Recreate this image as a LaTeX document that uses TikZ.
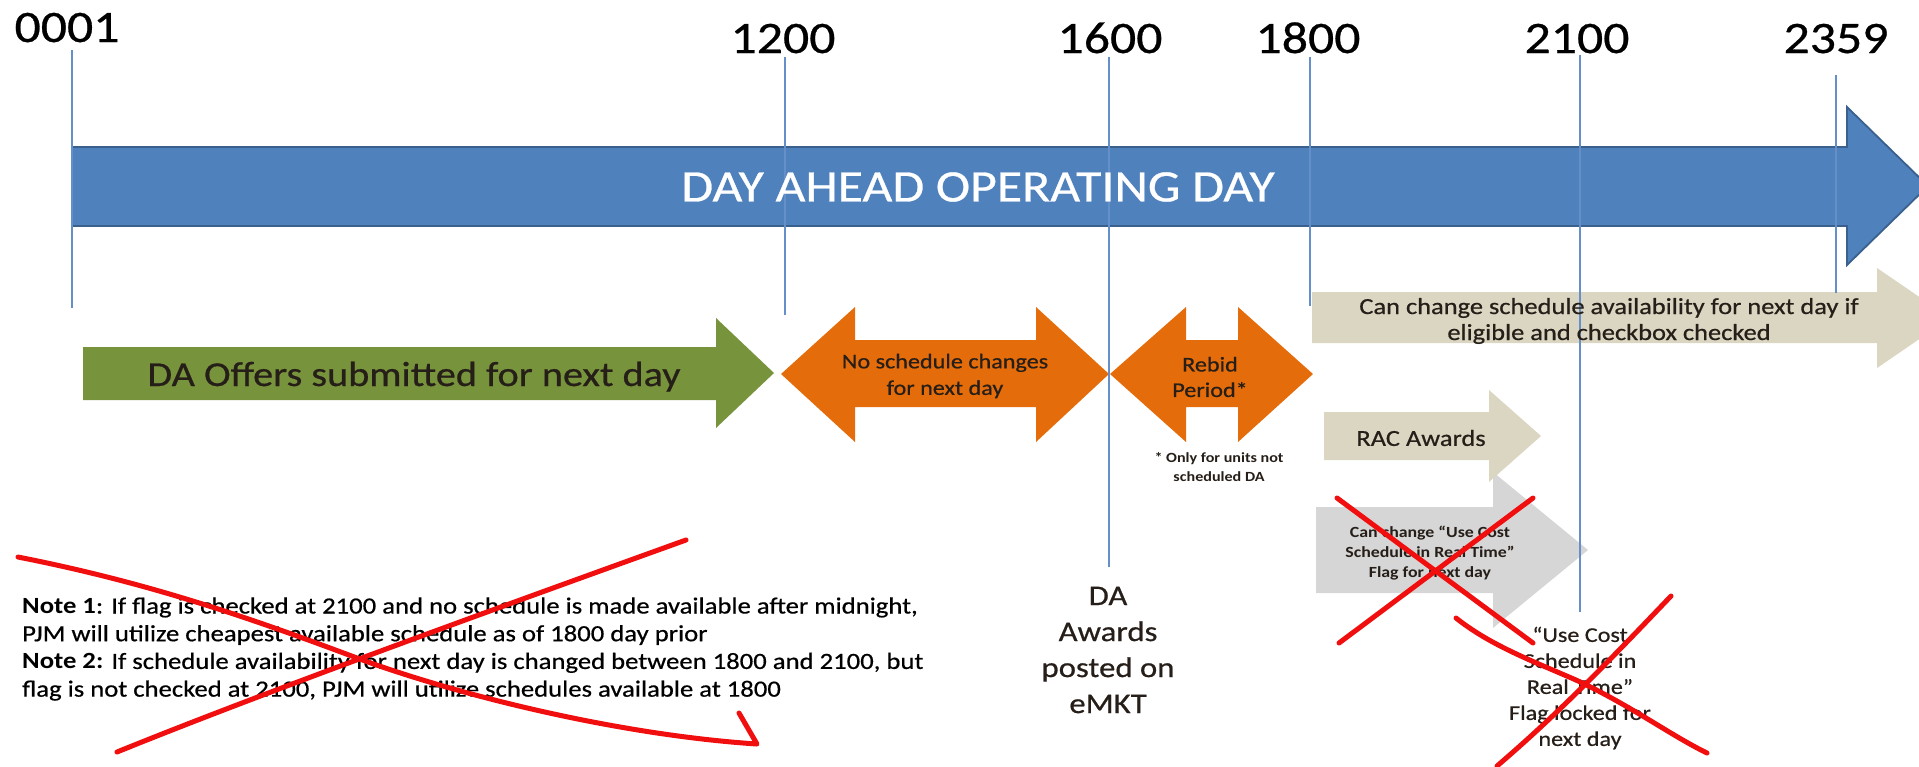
\documentclass[tikz,border=0pt]{standalone}
\usepackage{fontspec}
\setmainfont{Carlito}[FakeStretch=1.15, UprightFeatures={FakeBold=0.6}]
\definecolor{tlblue}{RGB}{79,129,189}
\definecolor{tlblueedge}{RGB}{58,96,142}
\definecolor{tickblue}{RGB}{100,143,200}
\definecolor{dagreen}{RGB}{119,147,60}
\definecolor{daorange}{RGB}{228,108,10}
\definecolor{tanfill}{RGB}{218,214,194}
\definecolor{lgrey}{RGB}{214,214,214}
\definecolor{xred}{RGB}{240,14,14}
\definecolor{darktxt}{RGB}{38,30,24}
\begin{document}
\begin{tikzpicture}[x=1pt,y=-1pt,
  ticklbl/.style={font=\fontsize{45}{54}\selectfont, inner sep=0pt, anchor=base},
  tickline/.style={draw=tickblue, line width=1.4pt},
  scratch/.style={draw=xred, line width=5pt, line cap=round, line join=round},
  txt/.style={inner sep=0pt, align=center},
]
\useasboundingbox (0,0) rectangle (1919,766);
\begin{scope}
\clip (0,0) rectangle (1919,766);
% main blue arrow
\filldraw[fill=tlblue, draw=tlblueedge, line width=1.8pt]
  (72,147) -- (1847,147) -- (1847,107) -- (1928,186) -- (1847,265) -- (1847,226) -- (72,226) -- cycle;
% green arrow
\fill[dagreen] (83,347) -- (716,347) -- (716,318) -- (774,373) -- (716,428) -- (716,400) -- (83,400) -- cycle;
% orange double arrows
\fill[daorange] (781,374) -- (855,307) -- (855,340) -- (1036,340) -- (1036,307) -- (1109,374)
  -- (1036,442) -- (1036,407) -- (855,407) -- (855,442) -- cycle;
\fill[daorange] (1110,374) -- (1186,307) -- (1186,340) -- (1238,340) -- (1238,307) -- (1313,374)
  -- (1238,442) -- (1238,407) -- (1186,407) -- (1186,442) -- cycle;
% tan arrow (schedule availability)
\fill[tanfill] (1312,292) -- (1877,292) -- (1877,268) -- (1950,318) -- (1877,368) -- (1877,343) -- (1312,343) -- cycle;
% grey arrow (flag)
\fill[lgrey] (1316,507) -- (1493,507) -- (1493,472) -- (1588,550) -- (1493,628) -- (1493,593) -- (1316,593) -- cycle;
% RAC arrow
\fill[tanfill] (1324,412) -- (1489,412) -- (1489,390) -- (1541,436) -- (1489,482) -- (1489,460) -- (1324,460) -- cycle;
\end{scope}

% tick labels
\node[ticklbl] (l0001) at (67,42) {0001};
\node[ticklbl] (l1200) at (783,53) {1200};
\node[ticklbl] (l1600) at (1110,53) {1600};
\node[ticklbl] (l1800) at (1308,53) {1800};
\node[ticklbl] (l2100) at (1577,53) {2100};
\node[ticklbl] (l2359) at (1836,53) {2359};

% tick line end points
\coordinate (a0001) at (72,50);   \coordinate (b0001) at (72,308);
\coordinate (a1200) at (785,57);  \coordinate (b1200) at (785,315);
\coordinate (a1600) at (1109,57); \coordinate (b1600) at (1109,567);
\coordinate (a1800) at (1310,57); \coordinate (b1800) at (1310,306);
\coordinate (a2100) at (1580,55); \coordinate (b2100) at (1580,612);
\coordinate (a2359) at (1836,75); \coordinate (b2359) at (1836,293);
\foreach \t in {0001,1200,1600,1800,2100,2359}
  \draw[tickline] (a\t) -- (b\t);

% texts
\node[txt, text=white, font=\fontsize{45}{54}\selectfont] (dayahead) at (978,187) {DAY AHEAD OPERATING DAY};
\node[txt, text=darktxt, font=\fontsize{35}{42}\selectfont, anchor=base] (daoffers) at (414,386) {DA Offers submitted for next day};
\node[txt, text=darktxt, font=\fontsize{21}{26.5}\selectfont] (nochange) at (945,376) {No schedule changes\\for next day};
\node[txt, text=darktxt, font=\fontsize{21}{25.5}\selectfont] (rebid) at (1210,377) {Rebid\\Period*};
\node[txt, text=darktxt, font=\bfseries\fontsize{14}{19}\selectfont] (onlyunits) at (1219,467) {* Only for units not\\scheduled DA};
\node[txt, text=darktxt, font=\fontsize{23}{26}\selectfont] (canchange) at (1609,321) {Can change schedule availability for next day if\\eligible and checkbox checked};
\node[txt, text=darktxt, font=\fontsize{23}{28}\selectfont] (rac) at (1421,438) {RAC Awards};
\node[txt, text=darktxt, font=\bfseries\fontsize{15.5}{20}\selectfont] (flagchange) at (1430,553) {Can change “Use Cost\\Schedule in Real Time”\\Flag for next day};
\node[txt, text=darktxt, font=\fontsize{28.5}{36}\selectfont] (daawards) at (1108,650) {DA\\Awards\\posted on\\eMKT};
\node[txt, text=darktxt, font=\fontsize{21}{26}\selectfont] (locked) at (1580,688) {“Use Cost\\Schedule in\\Real Time”\\Flag locked for\\next day};
\node[txt, align=left, anchor=west, text=black, font=\fontsize{23.2}{27.7}\selectfont] (notes) at (22,649)
  {\textbf{Note 1}: If flag is checked at 2100 and no schedule is made available after midnight,\\
   PJM will utilize cheapest available schedule as of 1800 day prior\\
   \textbf{Note 2:} If schedule availability for next day is changed between 1800 and 2100, but\\
   flag is not checked at 2100, PJM will utilize schedules available at 1800};

% red hand-drawn crossings
\begin{scope}
\clip (0,0) rectangle (1919,766);
\draw[scratch] (18,557) .. controls (150,583) and (250,618) .. (357,658)
  .. controls (460,696) and (620,735) .. (757,744) -- (739,713);
\draw[scratch] (117,752) .. controls (250,698) and (450,625) .. (686,540);
\draw[scratch] (1337,498) -- (1533,643);
\draw[scratch] (1533,498) -- (1339,643);
\draw[scratch] (1456,618) .. controls (1490,645) and (1530,660) .. (1576,680)
  .. controls (1630,705) and (1670,735) .. (1707,753);
\draw[scratch] (1671,596) .. controls (1610,660) and (1560,712) .. (1497,766);
\end{scope}
\end{tikzpicture}
\end{document}
